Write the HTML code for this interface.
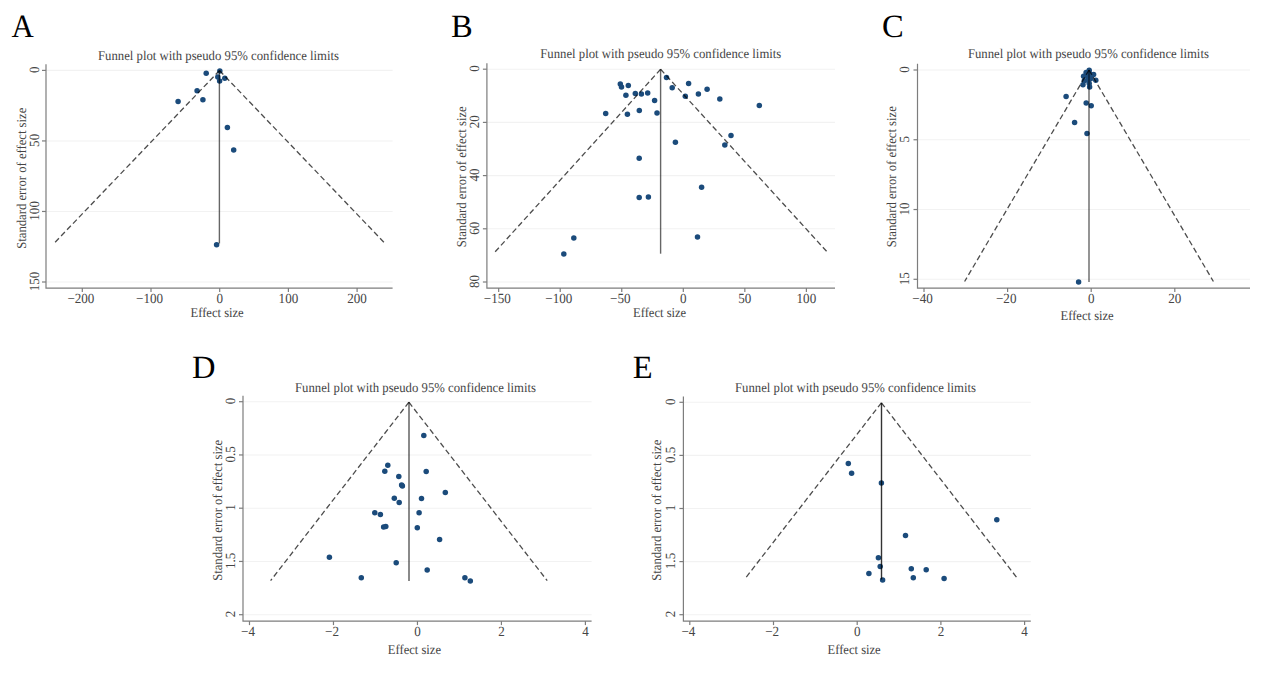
<!DOCTYPE html>
<html><head><meta charset="utf-8"><title>Funnel plots</title>
<style>
html,body{margin:0;padding:0;background:#fff;}
body{width:1269px;height:677px;overflow:hidden;}
svg{display:block;text-rendering:geometricPrecision;}
svg text{font-family:"Liberation Serif", "DejaVu Serif", serif;fill:#454545;}
svg text.let{fill:#000;}
</style></head>
<body>
<svg width="1269" height="677" viewBox="0 0 1269 677">
<rect width="1269" height="677" fill="#fff"/>
<line x1="46" y1="70.4" x2="392.6" y2="70.4" stroke="#f2f2f2" stroke-width="1.1"/>
<line x1="46" y1="140.94" x2="392.6" y2="140.94" stroke="#f2f2f2" stroke-width="1.1"/>
<line x1="46" y1="211.47" x2="392.6" y2="211.47" stroke="#f2f2f2" stroke-width="1.1"/>
<line x1="46" y1="282" x2="392.6" y2="282" stroke="#f2f2f2" stroke-width="1.1"/>
<circle cx="206.2" cy="73.3" r="2.75" fill="#1b4b7b"/>
<circle cx="219.8" cy="71.1" r="2.75" fill="#1b4b7b"/>
<circle cx="217.8" cy="77.1" r="2.75" fill="#1b4b7b"/>
<circle cx="224.8" cy="78.3" r="2.75" fill="#1b4b7b"/>
<circle cx="219.6" cy="81" r="2.75" fill="#1b4b7b"/>
<circle cx="197.1" cy="90.7" r="2.75" fill="#1b4b7b"/>
<circle cx="202.9" cy="99.8" r="2.75" fill="#1b4b7b"/>
<circle cx="178.1" cy="101.5" r="2.75" fill="#1b4b7b"/>
<circle cx="227.4" cy="127.4" r="2.75" fill="#1b4b7b"/>
<circle cx="233.7" cy="149.9" r="2.75" fill="#1b4b7b"/>
<circle cx="216.6" cy="244.8" r="2.75" fill="#1b4b7b"/>
<line x1="219.5" y1="70.5" x2="54.4" y2="243" stroke="#000" stroke-opacity="0.7" stroke-width="1.3" stroke-dasharray="5.5 3.1"/>
<line x1="219.5" y1="70.5" x2="384.6" y2="243" stroke="#000" stroke-opacity="0.7" stroke-width="1.3" stroke-dasharray="5.5 3.1"/>
<line x1="219.4" y1="70.5" x2="219.4" y2="243.5" stroke="#000" stroke-opacity="0.6" stroke-width="1.4"/>
<path d="M46,64.2 V288.1 H392.6" fill="none" stroke="#7d7d7d" stroke-width="1.2"/>
<line x1="42" y1="70.4" x2="46" y2="70.4" stroke="#7d7d7d" stroke-width="1.2"/>
<text transform="translate(38.8,69.8) rotate(-90) scale(0.935,1)" text-anchor="middle" font-size="14.0">0</text>
<line x1="42" y1="140.94" x2="46" y2="140.94" stroke="#7d7d7d" stroke-width="1.2"/>
<text transform="translate(38.8,140.34) rotate(-90) scale(0.935,1)" text-anchor="middle" font-size="14.0">50</text>
<line x1="42" y1="211.47" x2="46" y2="211.47" stroke="#7d7d7d" stroke-width="1.2"/>
<text transform="translate(38.8,210.87) rotate(-90) scale(0.935,1)" text-anchor="middle" font-size="14.0">100</text>
<line x1="42" y1="282" x2="46" y2="282" stroke="#7d7d7d" stroke-width="1.2"/>
<text transform="translate(38.8,281.4) rotate(-90) scale(0.935,1)" text-anchor="middle" font-size="14.0">150</text>
<line x1="82.3" y1="288.1" x2="82.3" y2="292.1" stroke="#7d7d7d" stroke-width="1.2"/>
<text transform="translate(80.9,302.6) scale(0.935,1)" text-anchor="middle" font-size="14.0">−200</text>
<line x1="151" y1="288.1" x2="151" y2="292.1" stroke="#7d7d7d" stroke-width="1.2"/>
<text transform="translate(149.6,302.6) scale(0.935,1)" text-anchor="middle" font-size="14.0">−100</text>
<line x1="219.7" y1="288.1" x2="219.7" y2="292.1" stroke="#7d7d7d" stroke-width="1.2"/>
<text transform="translate(219.7,302.6) scale(0.935,1)" text-anchor="middle" font-size="14.0">0</text>
<line x1="288.4" y1="288.1" x2="288.4" y2="292.1" stroke="#7d7d7d" stroke-width="1.2"/>
<text transform="translate(288.4,302.6) scale(0.935,1)" text-anchor="middle" font-size="14.0">100</text>
<line x1="357.1" y1="288.1" x2="357.1" y2="292.1" stroke="#7d7d7d" stroke-width="1.2"/>
<text transform="translate(357.1,302.6) scale(0.935,1)" text-anchor="middle" font-size="14.0">200</text>
<text x="218.5" y="59.9" text-anchor="middle" font-size="13.5" textLength="241" lengthAdjust="spacingAndGlyphs">Funnel plot with pseudo 95% confidence limits</text>
<text x="217.1" y="316.8" text-anchor="middle" font-size="13.5" textLength="53.2" lengthAdjust="spacingAndGlyphs">Effect size</text>
<text transform="translate(25.7,178.2) rotate(-90)" text-anchor="middle" font-size="13.5" textLength="141.0" lengthAdjust="spacingAndGlyphs">Standard error of effect size</text>
<text transform="translate(11.6,37) scale(0.95,1)" font-size="32.5" class="let">A</text>
<line x1="486.9" y1="69.2" x2="835" y2="69.2" stroke="#f2f2f2" stroke-width="1.1"/>
<line x1="486.9" y1="122.4" x2="835" y2="122.4" stroke="#f2f2f2" stroke-width="1.1"/>
<line x1="486.9" y1="175.6" x2="835" y2="175.6" stroke="#f2f2f2" stroke-width="1.1"/>
<line x1="486.9" y1="228.8" x2="835" y2="228.8" stroke="#f2f2f2" stroke-width="1.1"/>
<line x1="486.9" y1="282" x2="835" y2="282" stroke="#f2f2f2" stroke-width="1.1"/>
<circle cx="620.3" cy="84" r="2.75" fill="#1b4b7b"/>
<circle cx="621.5" cy="87.1" r="2.75" fill="#1b4b7b"/>
<circle cx="628.3" cy="85.6" r="2.75" fill="#1b4b7b"/>
<circle cx="625.9" cy="95.2" r="2.75" fill="#1b4b7b"/>
<circle cx="635.3" cy="93.6" r="2.75" fill="#1b4b7b"/>
<circle cx="641.4" cy="94.1" r="2.75" fill="#1b4b7b"/>
<circle cx="647.7" cy="93.1" r="2.75" fill="#1b4b7b"/>
<circle cx="654.6" cy="100.5" r="2.75" fill="#1b4b7b"/>
<circle cx="605.7" cy="113.6" r="2.75" fill="#1b4b7b"/>
<circle cx="627.4" cy="114.3" r="2.75" fill="#1b4b7b"/>
<circle cx="639.3" cy="110.5" r="2.75" fill="#1b4b7b"/>
<circle cx="657" cy="113" r="2.75" fill="#1b4b7b"/>
<circle cx="666.5" cy="77.6" r="2.75" fill="#1b4b7b"/>
<circle cx="672.2" cy="87.7" r="2.75" fill="#1b4b7b"/>
<circle cx="685.3" cy="96.3" r="2.75" fill="#1b4b7b"/>
<circle cx="688.6" cy="83.6" r="2.75" fill="#1b4b7b"/>
<circle cx="698.4" cy="93.9" r="2.75" fill="#1b4b7b"/>
<circle cx="707.1" cy="89.2" r="2.75" fill="#1b4b7b"/>
<circle cx="719.8" cy="99.1" r="2.75" fill="#1b4b7b"/>
<circle cx="759.3" cy="105.5" r="2.75" fill="#1b4b7b"/>
<circle cx="675.4" cy="142.2" r="2.75" fill="#1b4b7b"/>
<circle cx="639.2" cy="158.3" r="2.75" fill="#1b4b7b"/>
<circle cx="701.6" cy="187.3" r="2.75" fill="#1b4b7b"/>
<circle cx="639.2" cy="197.6" r="2.75" fill="#1b4b7b"/>
<circle cx="648.4" cy="197" r="2.75" fill="#1b4b7b"/>
<circle cx="731" cy="135.4" r="2.75" fill="#1b4b7b"/>
<circle cx="724.8" cy="145" r="2.75" fill="#1b4b7b"/>
<circle cx="573.8" cy="238.1" r="2.75" fill="#1b4b7b"/>
<circle cx="563.8" cy="254" r="2.75" fill="#1b4b7b"/>
<circle cx="697.5" cy="236.9" r="2.75" fill="#1b4b7b"/>
<line x1="660.6" y1="69.3" x2="493.9" y2="253.2" stroke="#000" stroke-opacity="0.7" stroke-width="1.3" stroke-dasharray="5.5 3.1"/>
<line x1="660.6" y1="69.3" x2="828.3" y2="253.2" stroke="#000" stroke-opacity="0.7" stroke-width="1.3" stroke-dasharray="5.5 3.1"/>
<line x1="660.6" y1="69.3" x2="660.6" y2="253.7" stroke="#000" stroke-opacity="0.6" stroke-width="1.4"/>
<path d="M486.9,63.2 V288.1 H835" fill="none" stroke="#7d7d7d" stroke-width="1.2"/>
<line x1="482.9" y1="69.2" x2="486.9" y2="69.2" stroke="#7d7d7d" stroke-width="1.2"/>
<text transform="translate(479.3,68.6) rotate(-90) scale(0.935,1)" text-anchor="middle" font-size="14.0">0</text>
<line x1="482.9" y1="122.4" x2="486.9" y2="122.4" stroke="#7d7d7d" stroke-width="1.2"/>
<text transform="translate(479.3,121.8) rotate(-90) scale(0.935,1)" text-anchor="middle" font-size="14.0">20</text>
<line x1="482.9" y1="175.6" x2="486.9" y2="175.6" stroke="#7d7d7d" stroke-width="1.2"/>
<text transform="translate(479.3,175) rotate(-90) scale(0.935,1)" text-anchor="middle" font-size="14.0">40</text>
<line x1="482.9" y1="228.8" x2="486.9" y2="228.8" stroke="#7d7d7d" stroke-width="1.2"/>
<text transform="translate(479.3,228.2) rotate(-90) scale(0.935,1)" text-anchor="middle" font-size="14.0">60</text>
<line x1="482.9" y1="282" x2="486.9" y2="282" stroke="#7d7d7d" stroke-width="1.2"/>
<text transform="translate(479.3,281.4) rotate(-90) scale(0.935,1)" text-anchor="middle" font-size="14.0">80</text>
<line x1="498.68" y1="288.1" x2="498.68" y2="292.1" stroke="#7d7d7d" stroke-width="1.2"/>
<text transform="translate(497.28,302.6) scale(0.935,1)" text-anchor="middle" font-size="14.0">−150</text>
<line x1="560.22" y1="288.1" x2="560.22" y2="292.1" stroke="#7d7d7d" stroke-width="1.2"/>
<text transform="translate(558.82,302.6) scale(0.935,1)" text-anchor="middle" font-size="14.0">−100</text>
<line x1="621.76" y1="288.1" x2="621.76" y2="292.1" stroke="#7d7d7d" stroke-width="1.2"/>
<text transform="translate(620.36,302.6) scale(0.935,1)" text-anchor="middle" font-size="14.0">−50</text>
<line x1="683.3" y1="288.1" x2="683.3" y2="292.1" stroke="#7d7d7d" stroke-width="1.2"/>
<text transform="translate(683.3,302.6) scale(0.935,1)" text-anchor="middle" font-size="14.0">0</text>
<line x1="744.84" y1="288.1" x2="744.84" y2="292.1" stroke="#7d7d7d" stroke-width="1.2"/>
<text transform="translate(744.84,302.6) scale(0.935,1)" text-anchor="middle" font-size="14.0">50</text>
<line x1="806.38" y1="288.1" x2="806.38" y2="292.1" stroke="#7d7d7d" stroke-width="1.2"/>
<text transform="translate(806.38,302.6) scale(0.935,1)" text-anchor="middle" font-size="14.0">100</text>
<text x="660.8" y="58.2" text-anchor="middle" font-size="13.5" textLength="241" lengthAdjust="spacingAndGlyphs">Funnel plot with pseudo 95% confidence limits</text>
<text x="659.6" y="316.8" text-anchor="middle" font-size="13.5" textLength="53.2" lengthAdjust="spacingAndGlyphs">Effect size</text>
<text transform="translate(465.8,176.85) rotate(-90)" text-anchor="middle" font-size="13.5" textLength="141.0" lengthAdjust="spacingAndGlyphs">Standard error of effect size</text>
<text transform="translate(451,36.9) scale(1,1)" font-size="32.5" class="let">B</text>
<line x1="917.5" y1="70" x2="1250" y2="70" stroke="#f2f2f2" stroke-width="1.1"/>
<line x1="917.5" y1="139.76" x2="1250" y2="139.76" stroke="#f2f2f2" stroke-width="1.1"/>
<line x1="917.5" y1="209.53" x2="1250" y2="209.53" stroke="#f2f2f2" stroke-width="1.1"/>
<line x1="917.5" y1="279.29" x2="1250" y2="279.29" stroke="#f2f2f2" stroke-width="1.1"/>
<circle cx="1089.2" cy="70.3" r="2.75" fill="#1b4b7b"/>
<circle cx="1089.6" cy="73.6" r="2.75" fill="#1b4b7b"/>
<circle cx="1090.6" cy="78.8" r="2.75" fill="#1b4b7b"/>
<circle cx="1086.1" cy="72.5" r="2.75" fill="#1b4b7b"/>
<circle cx="1093.6" cy="74.5" r="2.75" fill="#1b4b7b"/>
<circle cx="1083.6" cy="76.3" r="2.75" fill="#1b4b7b"/>
<circle cx="1087.8" cy="76.7" r="2.75" fill="#1b4b7b"/>
<circle cx="1091.2" cy="76.3" r="2.75" fill="#1b4b7b"/>
<circle cx="1095.8" cy="80.3" r="2.75" fill="#1b4b7b"/>
<circle cx="1083" cy="84.7" r="2.75" fill="#1b4b7b"/>
<circle cx="1089.2" cy="83.4" r="2.75" fill="#1b4b7b"/>
<circle cx="1089.6" cy="86.9" r="2.75" fill="#1b4b7b"/>
<circle cx="1084.3" cy="80.7" r="2.75" fill="#1b4b7b"/>
<circle cx="1088.3" cy="80.3" r="2.75" fill="#1b4b7b"/>
<circle cx="1066.1" cy="96.4" r="2.75" fill="#1b4b7b"/>
<circle cx="1086.2" cy="102.9" r="2.75" fill="#1b4b7b"/>
<circle cx="1091.2" cy="105.8" r="2.75" fill="#1b4b7b"/>
<circle cx="1074.6" cy="122.4" r="2.75" fill="#1b4b7b"/>
<circle cx="1087" cy="133.6" r="2.75" fill="#1b4b7b"/>
<circle cx="1078.6" cy="281.9" r="2.75" fill="#1b4b7b"/>
<line x1="1089" y1="70" x2="964.6" y2="281.5" stroke="#000" stroke-opacity="0.7" stroke-width="1.3" stroke-dasharray="5.5 3.1"/>
<line x1="1089" y1="70" x2="1213.4" y2="281.5" stroke="#000" stroke-opacity="0.7" stroke-width="1.3" stroke-dasharray="5.5 3.1"/>
<line x1="1089" y1="70" x2="1089" y2="281.9" stroke="#000" stroke-opacity="0.6" stroke-width="1.4"/>
<path d="M917.5,63.8 V288.1 H1250" fill="none" stroke="#7d7d7d" stroke-width="1.2"/>
<line x1="913.5" y1="70" x2="917.5" y2="70" stroke="#7d7d7d" stroke-width="1.2"/>
<text transform="translate(909.3,69.4) rotate(-90) scale(0.935,1)" text-anchor="middle" font-size="14.0">0</text>
<line x1="913.5" y1="139.76" x2="917.5" y2="139.76" stroke="#7d7d7d" stroke-width="1.2"/>
<text transform="translate(909.3,139.16) rotate(-90) scale(0.935,1)" text-anchor="middle" font-size="14.0">5</text>
<line x1="913.5" y1="209.53" x2="917.5" y2="209.53" stroke="#7d7d7d" stroke-width="1.2"/>
<text transform="translate(909.3,208.93) rotate(-90) scale(0.935,1)" text-anchor="middle" font-size="14.0">10</text>
<line x1="913.5" y1="279.29" x2="917.5" y2="279.29" stroke="#7d7d7d" stroke-width="1.2"/>
<text transform="translate(909.3,278.69) rotate(-90) scale(0.935,1)" text-anchor="middle" font-size="14.0">15</text>
<line x1="924" y1="288.1" x2="924" y2="292.1" stroke="#7d7d7d" stroke-width="1.2"/>
<text transform="translate(922.6,302.6) scale(0.935,1)" text-anchor="middle" font-size="14.0">−40</text>
<line x1="1007.6" y1="288.1" x2="1007.6" y2="292.1" stroke="#7d7d7d" stroke-width="1.2"/>
<text transform="translate(1006.2,302.6) scale(0.935,1)" text-anchor="middle" font-size="14.0">−20</text>
<line x1="1091.2" y1="288.1" x2="1091.2" y2="292.1" stroke="#7d7d7d" stroke-width="1.2"/>
<text transform="translate(1091.2,302.6) scale(0.935,1)" text-anchor="middle" font-size="14.0">0</text>
<line x1="1174.8" y1="288.1" x2="1174.8" y2="292.1" stroke="#7d7d7d" stroke-width="1.2"/>
<text transform="translate(1174.8,302.6) scale(0.935,1)" text-anchor="middle" font-size="14.0">20</text>
<text x="1088.4" y="58.2" text-anchor="middle" font-size="13.5" textLength="241" lengthAdjust="spacingAndGlyphs">Funnel plot with pseudo 95% confidence limits</text>
<text x="1087.1" y="319.8" text-anchor="middle" font-size="13.5" textLength="53.2" lengthAdjust="spacingAndGlyphs">Effect size</text>
<text transform="translate(896,176.7) rotate(-90)" text-anchor="middle" font-size="13.5" textLength="141.0" lengthAdjust="spacingAndGlyphs">Standard error of effect size</text>
<text transform="translate(882,36.8) scale(1,1)" font-size="32.5" class="let">C</text>
<line x1="243" y1="401.7" x2="591.6" y2="401.7" stroke="#f2f2f2" stroke-width="1.1"/>
<line x1="243" y1="454.95" x2="591.6" y2="454.95" stroke="#f2f2f2" stroke-width="1.1"/>
<line x1="243" y1="508.2" x2="591.6" y2="508.2" stroke="#f2f2f2" stroke-width="1.1"/>
<line x1="243" y1="561.45" x2="591.6" y2="561.45" stroke="#f2f2f2" stroke-width="1.1"/>
<line x1="243" y1="614.7" x2="591.6" y2="614.7" stroke="#f2f2f2" stroke-width="1.1"/>
<circle cx="423.8" cy="435.4" r="2.75" fill="#1b4b7b"/>
<circle cx="387.8" cy="465.2" r="2.75" fill="#1b4b7b"/>
<circle cx="384.8" cy="471.2" r="2.75" fill="#1b4b7b"/>
<circle cx="426.2" cy="471.5" r="2.75" fill="#1b4b7b"/>
<circle cx="398.8" cy="476.5" r="2.75" fill="#1b4b7b"/>
<circle cx="401.6" cy="485" r="2.75" fill="#1b4b7b"/>
<circle cx="402.4" cy="486" r="2.75" fill="#1b4b7b"/>
<circle cx="445.3" cy="492.4" r="2.75" fill="#1b4b7b"/>
<circle cx="394.3" cy="498.3" r="2.75" fill="#1b4b7b"/>
<circle cx="399.2" cy="502.6" r="2.75" fill="#1b4b7b"/>
<circle cx="421.5" cy="498.5" r="2.75" fill="#1b4b7b"/>
<circle cx="374.8" cy="512.7" r="2.75" fill="#1b4b7b"/>
<circle cx="380.4" cy="514.5" r="2.75" fill="#1b4b7b"/>
<circle cx="419.1" cy="512.7" r="2.75" fill="#1b4b7b"/>
<circle cx="383.6" cy="526.9" r="2.75" fill="#1b4b7b"/>
<circle cx="385.8" cy="526.6" r="2.75" fill="#1b4b7b"/>
<circle cx="417.3" cy="527.8" r="2.75" fill="#1b4b7b"/>
<circle cx="439.6" cy="539.4" r="2.75" fill="#1b4b7b"/>
<circle cx="329.4" cy="557.3" r="2.75" fill="#1b4b7b"/>
<circle cx="396.2" cy="562.7" r="2.75" fill="#1b4b7b"/>
<circle cx="361.3" cy="577.7" r="2.75" fill="#1b4b7b"/>
<circle cx="427.2" cy="569.9" r="2.75" fill="#1b4b7b"/>
<circle cx="464.9" cy="577.7" r="2.75" fill="#1b4b7b"/>
<circle cx="470.3" cy="581.1" r="2.75" fill="#1b4b7b"/>
<line x1="408.9" y1="402.2" x2="270.6" y2="580.7" stroke="#000" stroke-opacity="0.7" stroke-width="1.3" stroke-dasharray="5.5 3.1"/>
<line x1="408.9" y1="402.2" x2="547.2" y2="580.7" stroke="#000" stroke-opacity="0.7" stroke-width="1.3" stroke-dasharray="5.5 3.1"/>
<line x1="409" y1="402.2" x2="409" y2="581.1" stroke="#000" stroke-opacity="0.46" stroke-width="2.0"/>
<path d="M243,395.8 V621.1 H591.6" fill="none" stroke="#7d7d7d" stroke-width="1.2"/>
<line x1="239" y1="401.7" x2="243" y2="401.7" stroke="#7d7d7d" stroke-width="1.2"/>
<text transform="translate(235.4,401.1) rotate(-90) scale(0.935,1)" text-anchor="middle" font-size="14.0">0</text>
<line x1="239" y1="454.95" x2="243" y2="454.95" stroke="#7d7d7d" stroke-width="1.2"/>
<text transform="translate(235.4,454.35) rotate(-90) scale(0.935,1)" text-anchor="middle" font-size="14.0">0.5</text>
<line x1="239" y1="508.2" x2="243" y2="508.2" stroke="#7d7d7d" stroke-width="1.2"/>
<text transform="translate(235.4,507.6) rotate(-90) scale(0.935,1)" text-anchor="middle" font-size="14.0">1</text>
<line x1="239" y1="561.45" x2="243" y2="561.45" stroke="#7d7d7d" stroke-width="1.2"/>
<text transform="translate(235.4,560.85) rotate(-90) scale(0.935,1)" text-anchor="middle" font-size="14.0">1.5</text>
<line x1="239" y1="614.7" x2="243" y2="614.7" stroke="#7d7d7d" stroke-width="1.2"/>
<text transform="translate(235.4,614.1) rotate(-90) scale(0.935,1)" text-anchor="middle" font-size="14.0">2</text>
<line x1="249.49" y1="621.1" x2="249.49" y2="625.1" stroke="#7d7d7d" stroke-width="1.2"/>
<text transform="translate(248.09,636.3) scale(0.935,1)" text-anchor="middle" font-size="14.0">−4</text>
<line x1="333.47" y1="621.1" x2="333.47" y2="625.1" stroke="#7d7d7d" stroke-width="1.2"/>
<text transform="translate(332.07,636.3) scale(0.935,1)" text-anchor="middle" font-size="14.0">−2</text>
<line x1="417.45" y1="621.1" x2="417.45" y2="625.1" stroke="#7d7d7d" stroke-width="1.2"/>
<text transform="translate(417.45,636.3) scale(0.935,1)" text-anchor="middle" font-size="14.0">0</text>
<line x1="501.43" y1="621.1" x2="501.43" y2="625.1" stroke="#7d7d7d" stroke-width="1.2"/>
<text transform="translate(501.43,636.3) scale(0.935,1)" text-anchor="middle" font-size="14.0">2</text>
<line x1="585.41" y1="621.1" x2="585.41" y2="625.1" stroke="#7d7d7d" stroke-width="1.2"/>
<text transform="translate(585.41,636.3) scale(0.935,1)" text-anchor="middle" font-size="14.0">4</text>
<text x="415.5" y="392.2" text-anchor="middle" font-size="13.5" textLength="241" lengthAdjust="spacingAndGlyphs">Funnel plot with pseudo 95% confidence limits</text>
<text x="414.4" y="653.7" text-anchor="middle" font-size="13.5" textLength="53.2" lengthAdjust="spacingAndGlyphs">Effect size</text>
<text transform="translate(221.8,510.3) rotate(-90)" text-anchor="middle" font-size="13.5" textLength="141.0" lengthAdjust="spacingAndGlyphs">Standard error of effect size</text>
<text transform="translate(192,377.7) scale(1,1)" font-size="32.5" class="let">D</text>
<line x1="683.4" y1="402.3" x2="1030.8" y2="402.3" stroke="#f2f2f2" stroke-width="1.1"/>
<line x1="683.4" y1="455.4" x2="1030.8" y2="455.4" stroke="#f2f2f2" stroke-width="1.1"/>
<line x1="683.4" y1="508.5" x2="1030.8" y2="508.5" stroke="#f2f2f2" stroke-width="1.1"/>
<line x1="683.4" y1="561.6" x2="1030.8" y2="561.6" stroke="#f2f2f2" stroke-width="1.1"/>
<line x1="683.4" y1="614.7" x2="1030.8" y2="614.7" stroke="#f2f2f2" stroke-width="1.1"/>
<circle cx="848.3" cy="463.4" r="2.75" fill="#1b4b7b"/>
<circle cx="851.6" cy="473.3" r="2.75" fill="#1b4b7b"/>
<circle cx="881.4" cy="483.1" r="2.75" fill="#1b4b7b"/>
<circle cx="905.5" cy="535.5" r="2.75" fill="#1b4b7b"/>
<circle cx="878.4" cy="557.7" r="2.75" fill="#1b4b7b"/>
<circle cx="880.2" cy="566.5" r="2.75" fill="#1b4b7b"/>
<circle cx="868.9" cy="573.6" r="2.75" fill="#1b4b7b"/>
<circle cx="882.6" cy="580" r="2.75" fill="#1b4b7b"/>
<circle cx="911.3" cy="568.8" r="2.75" fill="#1b4b7b"/>
<circle cx="913.3" cy="577.7" r="2.75" fill="#1b4b7b"/>
<circle cx="926.2" cy="569.8" r="2.75" fill="#1b4b7b"/>
<circle cx="944.1" cy="578.6" r="2.75" fill="#1b4b7b"/>
<circle cx="996.8" cy="519.8" r="2.75" fill="#1b4b7b"/>
<line x1="881.4" y1="402.8" x2="745.2" y2="578.5" stroke="#000" stroke-opacity="0.7" stroke-width="1.3" stroke-dasharray="5.5 3.1"/>
<line x1="881.4" y1="402.8" x2="1017.5" y2="578.5" stroke="#000" stroke-opacity="0.7" stroke-width="1.3" stroke-dasharray="5.5 3.1"/>
<line x1="881.5" y1="402.8" x2="881.5" y2="579.5" stroke="#000" stroke-opacity="0.8" stroke-width="1.4"/>
<path d="M683.4,396.4 V621.1 H1030.8" fill="none" stroke="#7d7d7d" stroke-width="1.2"/>
<line x1="679.4" y1="402.3" x2="683.4" y2="402.3" stroke="#7d7d7d" stroke-width="1.2"/>
<text transform="translate(674.6,401.7) rotate(-90) scale(0.935,1)" text-anchor="middle" font-size="14.0">0</text>
<line x1="679.4" y1="455.4" x2="683.4" y2="455.4" stroke="#7d7d7d" stroke-width="1.2"/>
<text transform="translate(674.6,454.8) rotate(-90) scale(0.935,1)" text-anchor="middle" font-size="14.0">0.5</text>
<line x1="679.4" y1="508.5" x2="683.4" y2="508.5" stroke="#7d7d7d" stroke-width="1.2"/>
<text transform="translate(674.6,507.9) rotate(-90) scale(0.935,1)" text-anchor="middle" font-size="14.0">1</text>
<line x1="679.4" y1="561.6" x2="683.4" y2="561.6" stroke="#7d7d7d" stroke-width="1.2"/>
<text transform="translate(674.6,561) rotate(-90) scale(0.935,1)" text-anchor="middle" font-size="14.0">1.5</text>
<line x1="679.4" y1="614.7" x2="683.4" y2="614.7" stroke="#7d7d7d" stroke-width="1.2"/>
<text transform="translate(674.6,614.1) rotate(-90) scale(0.935,1)" text-anchor="middle" font-size="14.0">2</text>
<line x1="689.8" y1="621.1" x2="689.8" y2="625.1" stroke="#7d7d7d" stroke-width="1.2"/>
<text transform="translate(688.4,636.3) scale(0.935,1)" text-anchor="middle" font-size="14.0">−4</text>
<line x1="773.5" y1="621.1" x2="773.5" y2="625.1" stroke="#7d7d7d" stroke-width="1.2"/>
<text transform="translate(772.1,636.3) scale(0.935,1)" text-anchor="middle" font-size="14.0">−2</text>
<line x1="857.2" y1="621.1" x2="857.2" y2="625.1" stroke="#7d7d7d" stroke-width="1.2"/>
<text transform="translate(857.2,636.3) scale(0.935,1)" text-anchor="middle" font-size="14.0">0</text>
<line x1="940.9" y1="621.1" x2="940.9" y2="625.1" stroke="#7d7d7d" stroke-width="1.2"/>
<text transform="translate(940.9,636.3) scale(0.935,1)" text-anchor="middle" font-size="14.0">2</text>
<line x1="1024.6" y1="621.1" x2="1024.6" y2="625.1" stroke="#7d7d7d" stroke-width="1.2"/>
<text transform="translate(1024.6,636.3) scale(0.935,1)" text-anchor="middle" font-size="14.0">4</text>
<text x="855.5" y="392.2" text-anchor="middle" font-size="13.5" textLength="241" lengthAdjust="spacingAndGlyphs">Funnel plot with pseudo 95% confidence limits</text>
<text x="854.1" y="653.7" text-anchor="middle" font-size="13.5" textLength="53.2" lengthAdjust="spacingAndGlyphs">Effect size</text>
<text transform="translate(661.2,510.2) rotate(-90)" text-anchor="middle" font-size="13.5" textLength="141.0" lengthAdjust="spacingAndGlyphs">Standard error of effect size</text>
<text transform="translate(632.8,377.9) scale(1,1)" font-size="32.5" class="let">E</text>
</svg>
</body></html>
